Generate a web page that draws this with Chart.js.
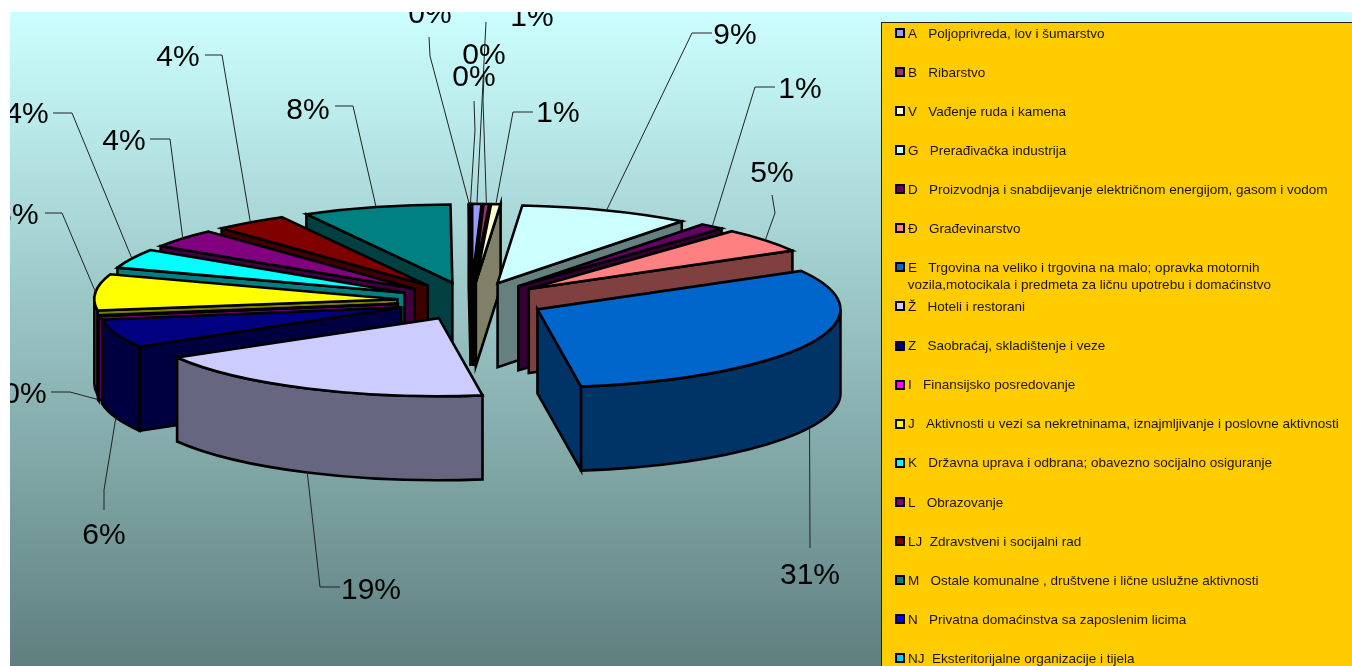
<!DOCTYPE html>
<html>
<head>
<meta charset="utf-8">
<style>
  html, body { margin: 0; padding: 0; background: #fff; overflow: hidden; }
  canvas { display: block; }
</style>
<script src="https://cdn.jsdelivr.net/npm/chart.js@4"></script>
</head>
<body>
<canvas id="chart" width="1352" height="666"></canvas>
<script>
const categories = [
  'A   Poljoprivreda, lov i šumarstvo',
  'B   Ribarstvo',
  'V   Vađenje ruda i kamena',
  'G   Prerađivačka industrija',
  'D   Proizvodnja i snabdijevanje električnom energijom, gasom i vodom',
  'Đ   Građevinarstvo',
  ['E   Trgovina na veliko i trgovina na malo; opravka motornih', ' vozila,motocikala i predmeta za ličnu upotrebu i domaćinstvo'],
  'Ž   Hoteli i restorani',
  'Z   Saobraćaj, skladištenje i veze',
  'I   Finansijsko posredovanje',
  'J   Aktivnosti u vezi sa nekretninama, iznajmljivanje i poslovne aktivnosti',
  'K   Državna uprava i odbrana; obavezno socijalno osiguranje',
  'L   Obrazovanje',
  'LJ  Zdravstveni i socijalni rad',
  'M   Ostale komunalne , društvene i lične uslužne aktivnosti',
  'N   Privatna domaćinstva sa zaposlenim licima',
  'NJ  Eksteritorijalne organizacije i tijela'
];
const shares = [0.5, 0.3, 0.5, 9.1, 1.3, 5.1, 30.9, 18.9, 5.9, 0.2, 7.5, 4, 3.9, 3.9, 7.9, 0.05, 0.05];
const colors = ['#9999ff', '#993366', '#ffffcc', '#ccffff', '#660066', '#ff8080', '#0066cc', '#ccccff',
  '#000080', '#ff00ff', '#ffff00', '#00ffff', '#800080', '#800000', '#008080', '#0000ff', '#00ccff'];
const wallColors = ['#4d4d80', '#4d1a33', '#808066', '#668080', '#330033', '#804040', '#003366', '#666680',
  '#000040', '#800080', '#808000', '#008080', '#400040', '#400000', '#004040', '#000080', '#006680'];

// pie look
const squash = 0.2575;
const depth = 84;
const explode = 74;
const plot = { x: 10, y: 12, w: 1342, h: 654 };
const legendBox = { x: 881, y: 22 };

// label position: [centre x, baseline y], then the leader's bends going out from the slice
const labelSpots = [
  [[532, 26], [[486, 22]]],
  [[484, 64], [[483, 100], [484, 75]]],
  [[558, 122], [[513, 112], [533, 112]]],
  [[735, 44], [[692, 33], [712, 33]]],
  [[800, 98], [[755, 87], [775, 87]]],
  [[772, 182], [[775, 213], [772, 195]]],
  [[810, 584], [[810, 548]]],
  [[371, 599], [[320, 587], [340, 587]]],
  [[104, 544], [[104, 490], [104, 510]]],
  [[25, 403], [[70, 392], [51, 392]]],
  [[17, 224], [[62, 213], [45, 213]]],
  [[27, 123], [[72, 113], [53, 113]]],
  [[124, 150], [[170, 139], [150, 139]]],
  [[178, 66], [[222, 55], [205, 55]]],
  [[308, 119], [[353, 106], [335, 106]]],
  [[430, 23], [[430, 56], [429, 37]]],
  [[474, 86], [[475, 130], [474, 101]]]
];

function sliceInfo(arc) {
  const mid = (arc.startAngle + arc.endAngle) / 2;
  return {
    start: arc.startAngle,
    end: arc.endAngle,
    mid: mid,
    r: arc.outerRadius,
    dx: Math.cos(mid) * explode,
    dy: Math.sin(mid) * explode,
    cx: arc.x + Math.cos(mid) * explode,
    cy: arc.y + Math.sin(mid) * explode * squash
  };
}

function face(ctx, fill, draw) {
  ctx.beginPath();
  draw();
  ctx.closePath();
  ctx.fillStyle = fill;
  ctx.fill();
  ctx.stroke();
}

function drawWalls(ctx, s, wall) {
  const rx = s.r, ry = s.r * squash;
  const radial = a => face(ctx, wall, () => {
    const px = s.cx + Math.cos(a) * rx;
    const py = s.cy + Math.sin(a) * ry;
    ctx.moveTo(s.cx, s.cy);
    ctx.lineTo(px, py);
    ctx.lineTo(px, py + depth);
    ctx.lineTo(s.cx, s.cy + depth);
  });
  // angles start at -PI/2 (top) and run clockwise, the near half of the rim is 0..PI
  if (s.start > Math.PI / 2) radial(s.start);
  if (s.end < Math.PI / 2) radial(s.end);
  const from = Math.max(s.start, 0);
  const to = Math.min(s.end, Math.PI);
  if (to > from) {
    face(ctx, wall, () => {
      ctx.ellipse(s.cx, s.cy, rx, ry, 0, from, to);
      ctx.ellipse(s.cx, s.cy + depth, rx, ry, 0, to, from, true);
    });
  }
}

const backdrop = {
  id: 'backdrop',
  beforeDraw(chart) {
    const ctx = chart.ctx;
    const g = ctx.createLinearGradient(0, plot.y, 0, plot.y + plot.h);
    g.addColorStop(0, '#ccffff');
    g.addColorStop(1, '#5f7f7f');
    ctx.save();
    ctx.fillStyle = '#fff';
    ctx.fillRect(0, 0, chart.width, chart.height);
    ctx.fillStyle = g;
    ctx.fillRect(plot.x, plot.y, plot.w, plot.h);

    // legend panel, runs off the window like the original
    ctx.fillStyle = '#ffcc00';
    ctx.strokeStyle = '#222';
    ctx.lineWidth = 1;
    ctx.fillRect(legendBox.x, legendBox.y, chart.width, chart.height);
    ctx.strokeRect(legendBox.x + 0.5, legendBox.y + 0.5, chart.width, chart.height);

    ctx.font = '13.5px "Liberation Sans"';
    ctx.textBaseline = 'middle';
    ctx.textAlign = 'left';
    chart.data.labels.forEach((label, i) => {
      const y = 33 + i * 39.07;
      ctx.fillStyle = '#000';
      ctx.fillRect(895, Math.round(y) - 5, 10, 10);
      ctx.fillStyle = colors[i];
      ctx.fillRect(897, Math.round(y) - 3, 6, 6);
      ctx.fillStyle = '#1a1400';
      if (Array.isArray(label)) {
        ctx.fillText(label[0], 908, y + 1);
        ctx.fillText(label[1], 904, y + 18);
      } else {
        ctx.fillText(label, 908, y + 1);
      }
    });
    ctx.restore();
  }
};

const pie3d = {
  id: 'pie3d',
  beforeDatasetsDraw(chart) {
    const ctx = chart.ctx;
    const arcs = chart.getDatasetMeta(0).data;
    const order = arcs.map((arc, i) => i)
      .sort((a, b) => Math.sin(sliceInfo(arcs[a]).mid) - Math.sin(sliceInfo(arcs[b]).mid));

    order.forEach(i => {
      const arc = arcs[i];
      const s = sliceInfo(arc);
      ctx.save();
      ctx.strokeStyle = '#000';
      ctx.lineWidth = 2.6;
      ctx.lineJoin = 'miter';
      drawWalls(ctx, s, wallColors[i]);

      // top of the slice comes from the library's own arc, flattened and pushed out
      ctx.save();
      ctx.translate(0, arc.y);
      ctx.scale(1, squash);
      ctx.translate(0, -arc.y);
      ctx.translate(s.dx, s.dy);
      arc.draw(ctx);
      ctx.restore();

      ctx.beginPath();
      ctx.moveTo(s.cx, s.cy);
      ctx.ellipse(s.cx, s.cy, s.r, s.r * squash, 0, s.start, s.end);
      ctx.closePath();
      ctx.stroke();
      ctx.restore();
    });

    // percent labels and leaders, cut at the plot edge as in the original
    const total = shares.reduce((a, b) => a + b, 0);
    ctx.save();
    ctx.beginPath();
    ctx.rect(plot.x, plot.y, plot.w, plot.h);
    ctx.clip();
    ctx.strokeStyle = '#222';
    ctx.lineWidth = 1;
    arcs.forEach((arc, i) => {
      const s = sliceInfo(arc);
      const front = Math.sin(s.mid) > 0 ? depth : 0;
      const [spot, bends] = labelSpots[i];
      ctx.beginPath();
      ctx.moveTo(s.cx + Math.cos(s.mid) * s.r, s.cy + Math.sin(s.mid) * s.r * squash + front);
      bends.forEach(p => ctx.lineTo(p[0], p[1]));
      ctx.stroke();
      ctx.fillStyle = '#000';
      ctx.font = '30px "Liberation Sans"';
      ctx.textAlign = 'center';
      ctx.textBaseline = 'alphabetic';
      ctx.fillText(Math.round(shares[i] / total * 100 + 1e-6) + '%', spot[0], spot[1]);
    });
    ctx.restore();
    return false;
  }
};

new Chart(document.getElementById('chart'), {
  type: 'pie',
  data: {
    labels: categories,
    datasets: [{
      data: shares,
      backgroundColor: colors,
      borderWidth: 0
    }]
  },
  options: {
    responsive: false,
    animation: false,
    events: [],
    radius: 303,
    layout: { padding: { left: 0, top: 0, right: 410, bottom: 64 } },
    plugins: { legend: { display: false }, tooltip: { enabled: false } }
  },
  plugins: [backdrop, pie3d]
});
</script>
</body>
</html>
